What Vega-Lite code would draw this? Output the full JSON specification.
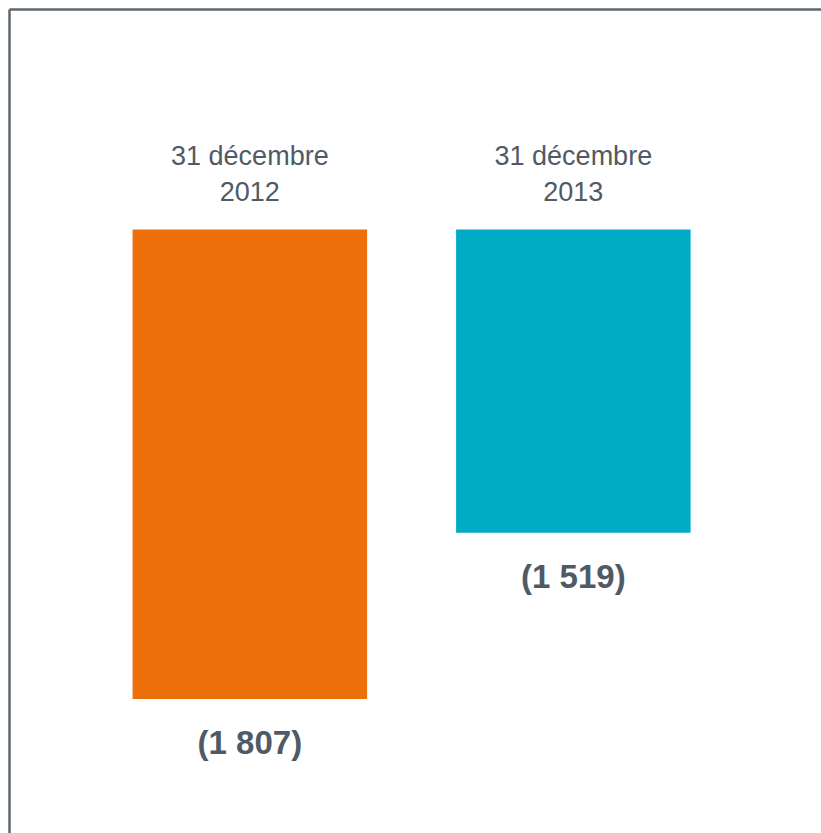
{
  "$schema": "https://vega.github.io/schema/vega-lite/v6.json",
  "width": 812,
  "height": 824,
  "autosize": {"type": "none"},
  "padding": {"left": 9, "top": 9, "right": 0, "bottom": 0},
  "background": "white",
  "view": {"stroke": null},
  "config": {"font": "Liberation Sans"},
  "data": {"values": [
    {"periode": "31 décembre\n2012", "valeur": -1807, "label": "(1 807)", "couleur": "2012"},
    {"periode": "31 décembre\n2013", "valeur": -1519, "label": "(1 519)", "couleur": "2013"}
  ]},
  "encoding": {
    "x": {"field": "periode", "type": "nominal", "sort": null,
      "scale": {"paddingInner": 0.2751, "paddingOuter": 0.3926, "align": 0.4866},
      "axis": {"orient": "top", "title": null, "labels": false, "ticks": false, "domain": true, "domainColor": "#5b6670", "domainWidth": 2.5}}
  },
  "layer": [
    {
      "mark": {"type": "bar"},
      "encoding": {
        "y": {"field": "valeur", "type": "quantitative",
          "scale": {"domain": [-2039, -612.2], "nice": false, "zero": false},
          "axis": {"orient": "left", "title": null, "labels": false, "ticks": false, "grid": false, "domain": true, "domainColor": "#5b6670", "domainWidth": 2.5}},
        "y2": {"datum": -994},
        "color": {"field": "couleur", "type": "nominal", "legend": null,
          "scale": {"domain": ["2012", "2013"], "range": ["#ec6f0a", "#00abc5"]}}
      }
    },
    {
      "mark": {"type": "text", "baseline": "alphabetic", "dy": 55, "fontSize": 33, "fontWeight": "bold", "color": "#4f5a65"},
      "encoding": {
        "y": {"field": "valeur", "type": "quantitative"},
        "text": {"field": "label"}
      }
    },
    {
      "mark": {"type": "text", "baseline": "alphabetic", "lineBreak": "\n", "lineHeight": 36, "dy": -64, "fontSize": 27, "color": "#4f5a65"},
      "encoding": {
        "y": {"datum": -994},
        "text": {"field": "periode"}
      }
    }
  ]
}
